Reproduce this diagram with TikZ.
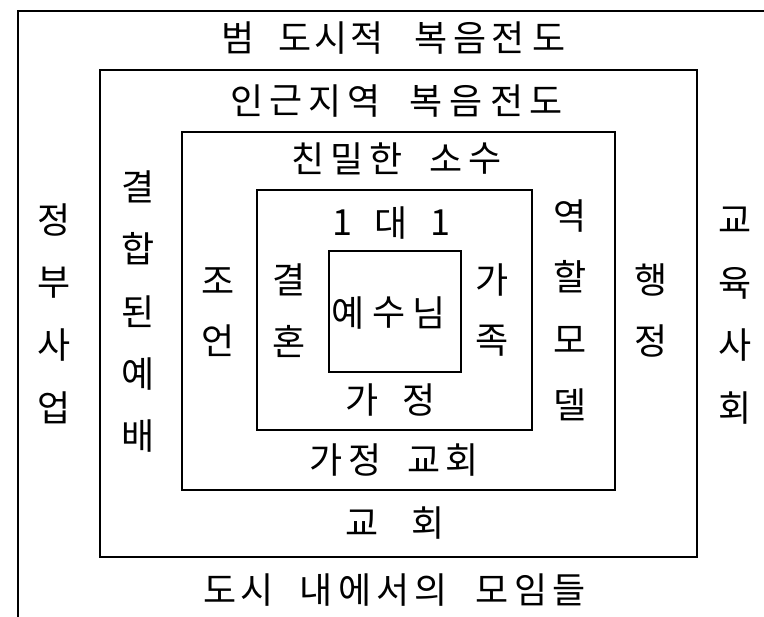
\documentclass[tikz,border=0pt]{standalone}
\usepackage{fontspec}
\newfontfamily\kr{Noto Sans CJK KR}
\tikzset{
  box/.style={draw, line width=1.6pt},
  ch/.style={font=\kr\fontsize{36}{40}\selectfont, inner sep=0pt, anchor=center},
}
\begin{document}
\begin{tikzpicture}[x=1pt,y=-1pt]
\useasboundingbox (0,0) rectangle (764,617);
% boxes
\draw[box] (18,617) -- (18,11) -- (764,11);
\draw[box] (100,70) rectangle (697,557);
\draw[box] (182,132) rectangle (615,490);
\draw[box] (257,190) rectangle (532,430);
\draw[box] (329,251) rectangle (461,372);
% horizontal rows
\foreach \x/\c [count=\i] in {238/범,295/도,331/시,367/적,431/복,470/음,508/전,549/도}
  \node[ch] (ra\i) at (\x,38) {\c};
\foreach \x/\c [count=\i] in {247/인,286/근,325/지,364/역,426/복,466/음,507/전,546/도}
  \node[ch] (rb\i) at (\x,101) {\c};
\foreach \x/\c [count=\i] in {308/친,347/밀,386/한,446/소,485/수}
  \node[ch] (rc\i) at (\x,159) {\c};
\foreach \x/\c [count=\i] in {342/1,391/대,440/1}
  \node[ch] (rd\i) at (\x,223) {\c};
\foreach \x/\c [count=\i] in {348/예,389/수,429/님}
  \node[ch] (re\i) at (\x,313) {\c};
\foreach \x/\c [count=\i] in {362/가,419/정}
  \node[ch] (rf\i) at (\x,400) {\c};
\foreach \x/\c [count=\i] in {326/가,365/정,424/교,462/회}
  \node[ch] (rg\i) at (\x,460) {\c};
\foreach \x/\c [count=\i] in {362/교,428/회}
  \node[ch] (rh\i) at (\x,523) {\c};
\foreach \x/\c [count=\i] in {220/도,257/시,316/내,355/에,393/서,431/의,492/모,531/임,569/들}
  \node[ch] (ri\i) at (\x,590) {\c};
% vertical columns
\foreach \y/\c [count=\i] in {220/정,283/부,345/사,408/업}
  \node[ch] (va\i) at (54,\y) {\c};
\foreach \y/\c [count=\i] in {187/결,249/합,312/된,374/예,436/배}
  \node[ch] (vb\i) at (138,\y) {\c};
\foreach \y/\c [count=\i] in {281/조,341/언}
  \node[ch] (vc\i) at (218,\y) {\c};
\foreach \y/\c [count=\i] in {280/결,341/혼}
  \node[ch] (vd\i) at (289,\y) {\c};
\foreach \y/\c [count=\i] in {280/가,341/족}
  \node[ch] (ve\i) at (492,\y) {\c};
\foreach \y/\c [count=\i] in {216/역,277/할,340/모,405/델}
  \node[ch] (vf\i) at (570,\y) {\c};
\foreach \y/\c [count=\i] in {280/행,341/정}
  \node[ch] (vg\i) at (651,\y) {\c};
\foreach \y/\c [count=\i] in {220/교,283/육,345/사,408/회}
  \node[ch] (vh\i) at (735,\y) {\c};
\end{tikzpicture}
\end{document}
